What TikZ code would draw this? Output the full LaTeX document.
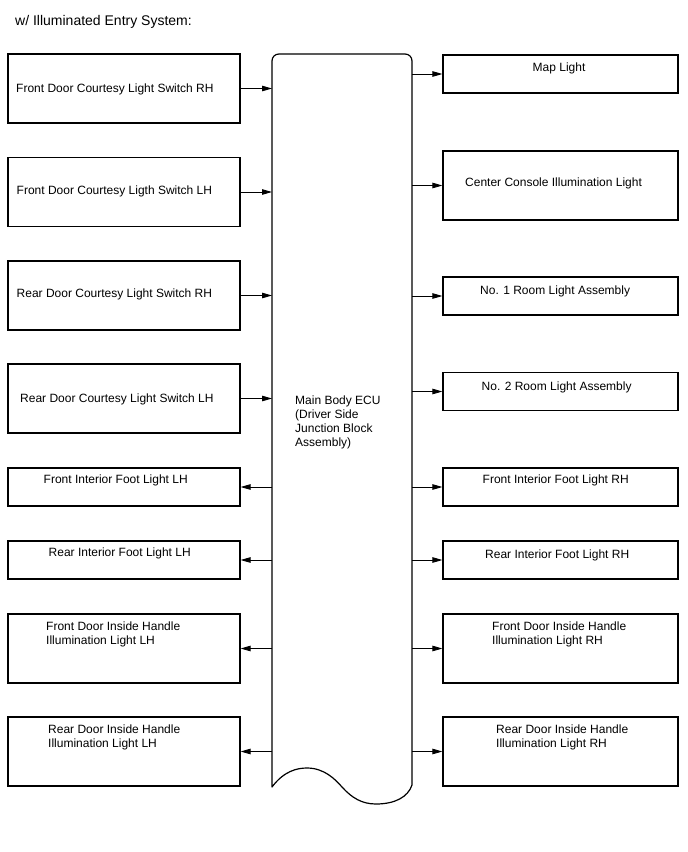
\documentclass[tikz,border=0pt]{standalone}
\usepackage{fontspec}
\setmainfont{Liberation Sans}
\usetikzlibrary{arrows.meta}
\newcommand{\mlines}[1]{\begin{tabular}[t]{@{}l@{}}#1\end{tabular}}
\begin{document}
\begin{tikzpicture}[x=1pt,y=-1pt,
  box/.style={draw, line width=1.2pt, inner sep=0pt, minimum height=#1},
  lbox/.style={box=#1, minimum width=232pt},
  rbox/.style={box=#1, minimum width=235pt},
  lbl/.style={anchor=base west, inner sep=0pt, font=\fontsize{12}{14}\selectfont},
  conn/.style={line width=0.9pt, -{Triangle[length=10pt,width=5.5pt]}},
  eculine/.style={line width=1.2pt, line join=round},
]
\fill[white] (0,0) rectangle (688,852);
\useasboundingbox (0,0) rectangle (688,852);

% title
\node[anchor=base west, inner sep=0pt, font=\fontsize{14}{16}\selectfont] (title) at (15,25) {w/ Illuminated Entry System:};

% ECU outline
\draw[eculine] (272,787) -- (272,61) .. controls (272,57) and (275,54) .. (279,54)
  -- (405,54) .. controls (409,54) and (412,57) .. (412,61)
  -- (412,785) .. controls (408,797) and (395,804) .. (376,804)
  .. controls (362,804) and (352,798) .. (342,787)
  .. controls (335,779) and (324,768) .. (307,768)
  .. controls (297,768) and (284,771) .. (272,787) -- cycle;
\coordinate (ecuL) at (272,0);
\coordinate (ecuR) at (412,0);
\node[lbl] (ecu) at (295,404) {\mlines{Main Body ECU\\(Driver Side\\Junction Block\\Assembly)}};

% left boxes
\node[lbox=69pt] (l1) at (124,88.5) {};
\node[lbox=69pt] (l2) at (124,192) {};
\node[lbox=69pt] (l3) at (124,295.5) {};
\node[lbox=69pt] (l4) at (124,398.5) {};
\node[lbox=38pt] (l5) at (124,487) {};
\node[lbox=38pt] (l6) at (124,560) {};
\node[lbox=69pt] (l7) at (124,648.5) {};
\node[lbox=69pt] (l8) at (124,751.5) {};

% right boxes
\node[rbox=38pt] (r1) at (560.5,74) {};
\node[rbox=69pt] (r2) at (560.5,185.5) {};
\node[rbox=38pt] (r3) at (560.5,296) {};
\node[rbox=38pt] (r4) at (560.5,391.5) {};
\node[rbox=38pt] (r5) at (560.5,487) {};
\node[rbox=38pt] (r6) at (560.5,560) {};
\node[rbox=69pt] (r7) at (560.5,648.5) {};
\node[rbox=69pt] (r8) at (560.5,751.5) {};

% left labels
\node[lbl] (tl1) at (16,92.5) {Front Door Courtesy Light Switch RH};
\node[lbl] (tl2) at (16.5,194) {Front Door Courtesy Ligth Switch LH};
\node[lbl] (tl3) at (16.5,297) {Rear Door Courtesy Light Switch RH};
\node[lbl] (tl4) at (20,402) {Rear Door Courtesy Light Switch LH};
\node[lbl] (tl5) at (43.5,483) {Front Interior Foot Light LH};
\node[lbl] (tl6) at (48.5,556) {Rear Interior Foot Light LH};
\node[lbl] (tl7) at (46,630) {\mlines{Front Door Inside Handle\\Illumination Light LH}};
\node[lbl] (tl8) at (48,733) {\mlines{Rear Door Inside Handle\\Illumination Light LH}};

% right labels
\node[lbl] (tr1) at (532.5,71) {Map Light};
\node[lbl] (tr2) at (465,186) {Center Console Illumination Light};
\node[lbl] (tr3) at (480,294) {No. 1 Room Light Assembly};
\node[lbl] (tr4) at (481.5,390.5) {No. 2 Room Light Assembly};
\node[lbl] (tr5) at (482.5,483) {Front Interior Foot Light RH};
\node[lbl] (tr6) at (485,558) {Rear Interior Foot Light RH};
\node[lbl] (tr7) at (492,630) {\mlines{Front Door Inside Handle\\Illumination Light RH}};
\node[lbl] (tr8) at (496,733) {\mlines{Rear Door Inside Handle\\Illumination Light RH}};

% inputs to ECU
\foreach \n in {l1,l2,l3,l4}
  \draw[conn] (\n.east) -- (\n.east -| ecuL);
% outputs to the left
\foreach \n in {l5,l6,l7,l8}
  \draw[conn] (\n.east -| ecuL) -- (\n.east);
% outputs to the right
\foreach \n in {r1,r2,r3,r4,r5,r6,r7,r8}
  \draw[conn] (\n.west -| ecuR) -- (\n.west);
\end{tikzpicture}
\end{document}
